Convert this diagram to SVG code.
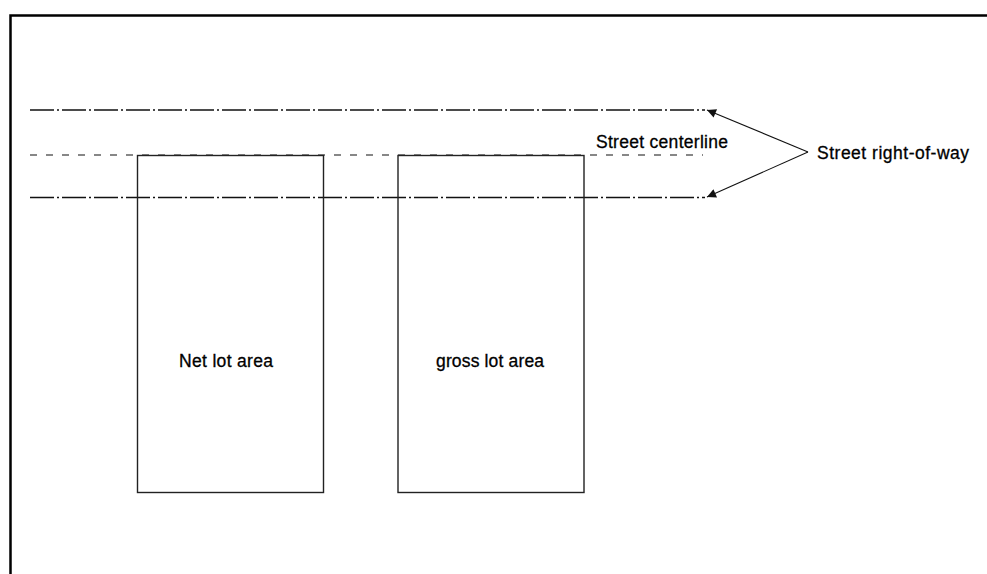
<svg xmlns="http://www.w3.org/2000/svg" width="987" height="574" viewBox="0 0 987 574">
<style>
.frame{fill:none;stroke:#000;stroke-width:2.5}
.lot{fill:none;stroke:#222;stroke-width:1.4}
.row{fill:none;stroke:#111;stroke-width:1.4;stroke-dasharray:24 3 2 3}
.cl{fill:none;stroke:#111;stroke-width:1.2;stroke-dasharray:7 9}
.lead{fill:none;stroke:#111;stroke-width:1.1}
.lbl{font-family:"Liberation Sans",Arial,sans-serif;font-size:17.5px;fill:#000;stroke:#000;stroke-width:0.3}
</style>
<defs>
<marker id="ah" viewBox="0 0 10 10" refX="10" refY="5" markerWidth="11" markerHeight="9" markerUnits="userSpaceOnUse" orient="auto">
<path d="M0,0 L10,5 L0,10 Z" fill="#111"/>
</marker>
</defs>
<rect width="987" height="574" fill="#fff"/>
<path class="frame" d="M10.5,574 V15.5 H987"/>
<g id="connectors">
<line class="row" x1="30" y1="110" x2="705" y2="110"/>
<line class="cl" x1="30" y1="155" x2="703" y2="155"/>
<line class="row" x1="30" y1="197.5" x2="705" y2="197.5"/>
<line class="lead" x1="808" y1="152" x2="707" y2="110" marker-end="url(#ah)"/>
<line class="lead" x1="808" y1="152" x2="707" y2="197" marker-end="url(#ah)"/>
</g>
<g id="net-lot">
<rect class="lot" x="137.5" y="155.5" width="186" height="337"/>
<text class="lbl" x="179" y="367" textLength="94" lengthAdjust="spacing">Net lot area</text>
</g>
<g id="gross-lot">
<rect class="lot" x="398" y="155.5" width="186" height="337"/>
<text class="lbl" x="436" y="367" textLength="108" lengthAdjust="spacing">gross lot area</text>
</g>
<g id="centerline-label">
<text class="lbl" x="596" y="148" textLength="132" lengthAdjust="spacing">Street centerline</text>
</g>
<g id="row-label">
<text class="lbl" x="817" y="159" textLength="152" lengthAdjust="spacing">Street right-of-way</text>
</g>
</svg>
